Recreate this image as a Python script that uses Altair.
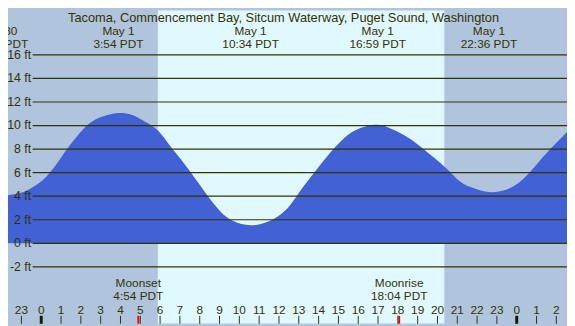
import altair as alt
import pandas as pd

# ---- data ----
# tide height (ft) at times in hours after midnight, May 1 (PDT)
tide_hours = [-2.07, -1.08, -0.43, 0.25, 0.91, 1.24, 1.91, 2.57, 3.23, 3.90,
              4.56, 5.22, 5.89, 6.55, 7.21, 7.88, 8.37, 9.03, 9.70, 10.57,
              11.52, 12.37, 13.01, 14.01, 14.84, 15.67, 16.50, 16.98,
              17.49, 18.49, 19.32, 20.36, 21.14, 21.81, 22.60, 23.46,
              24.29, 25.12, 25.79, 26.53, 26.90]
tide_feet = [3.99, 4.27, 4.77, 5.66, 7.06, 7.85, 9.30, 10.35, 10.83, 11.06,
             10.91, 10.35, 9.57, 8.17, 6.78, 5.24, 4.10, 2.73, 1.89, 1.53,
             1.89, 2.87, 4.30, 6.50, 8.17, 9.43, 9.99, 10.07,
             9.85, 9.01, 7.96, 6.50, 5.24, 4.69, 4.35, 4.55,
             5.39, 6.92, 8.17, 9.43, 9.95]

# daylight bands
band_start = [-4.0, 5.886, 20.36]
band_end = [5.886, 20.36, 30.0]
band_kind = ["night", "day", "night"]

# tide extremes shown along the top
extreme_hours = [-2.083, 3.90, 10.567, 16.983, 22.60]
extreme_dates = ["Apr 30", "May  1", "May  1", "May  1", "May  1"]
extreme_times = ["21:55 PDT", "3:54 PDT", "10:34 PDT", "16:59 PDT", "22:36 PDT"]

# height grid
grid_feet = [-2, 0, 2, 4, 6, 8, 10, 12, 14, 16]
grid_labels = ["-2 ft", "0 ft", "2 ft", "4 ft", "6 ft", "8 ft", "10 ft",
               "12 ft", "14 ft", "16 ft"]

# hour ticks along the bottom
tick_hours = list(range(-2, 27))
tick_labels = ["22", "23", "0", "1", "2", "3", "4", "5", "6", "7", "8", "9",
               "10", "11", "12", "13", "14", "15", "16", "17", "18", "19",
               "20", "21", "22", "23", "0", "1", "2"]
midnight_hours = [0, 24]

# moon events
moon_hours = [4.9, 18.067]
moon_events = ["Moonset", "Moonrise"]
moon_times = ["4:54 PDT", "18:04 PDT"]

title_text = "Tacoma, Commencement Bay, Sitcum Waterway, Puget Sound, Washington"

# ---- styling ----
W, H = 567, 318
NIGHT = "#B0C4DE"
DAY = "#E0F8FF"
WATER = "#4161D5"
INK = "#333300"
FONT = "Liberation Sans"

xs = alt.Scale(domain=[-1.677, 26.538], nice=False, zero=False)
ys = alt.Scale(domain=[-6.83, 19.79], nice=False, zero=False)

tide_df = pd.DataFrame({"h": tide_hours, "ft": tide_feet})
band_df = pd.DataFrame({"h": band_start, "h2": band_end, "kind": band_kind})
ext_df = pd.DataFrame({"h": extreme_hours, "d": extreme_dates, "t": extreme_times})
grid_df = pd.DataFrame({"ft": grid_feet, "lab": grid_labels})
tick_df = pd.DataFrame({"h": tick_hours, "lab": tick_labels})
mid_df = pd.DataFrame({"h": midnight_hours})
moon_df = pd.DataFrame({"h": moon_hours, "ev": moon_events, "t": moon_times})
title_df = pd.DataFrame({"t": [title_text]})

bands = alt.Chart(band_df).mark_rect(clip=True).encode(
    x=alt.X("h:Q", scale=xs, axis=None),
    x2="h2:Q",
    y=alt.value(0),
    y2=alt.value(H),
    color=alt.Color("kind:N", scale=alt.Scale(domain=["night", "day"], range=[NIGHT, DAY]), legend=None),
)

water = alt.Chart(tide_df).mark_area(clip=True, interpolate="natural", color=WATER).encode(
    x=alt.X("h:Q", scale=xs, axis=None),
    y=alt.Y("ft:Q", scale=ys, axis=None),
    y2=alt.value(H),
)

grid = alt.Chart(grid_df).mark_rule(color=INK, strokeWidth=1.2).encode(
    y=alt.Y("ft:Q", scale=ys, axis=None),
    x=alt.value(25),
    x2=alt.value(W),
)

grid_text = alt.Chart(grid_df).mark_text(
    align="right", baseline="middle", font=FONT, fontSize=12.5, color=INK
).encode(
    y=alt.Y("ft:Q", scale=ys, axis=None),
    x=alt.value(23.5),
    text="lab:N",
)

title = alt.Chart(title_df).mark_text(
    align="center", baseline="alphabetic", font=FONT, fontSize=13, color=INK
).encode(x=alt.value(279.5), y=alt.value(11.5), text="t:N")

ext_date = alt.Chart(ext_df).mark_text(
    align="center", baseline="alphabetic", font=FONT, fontSize=12, color=INK
).encode(x=alt.X("h:Q", scale=xs, axis=None), y=alt.value(25), text="d:N")

ext_time = alt.Chart(ext_df).mark_text(
    align="center", baseline="alphabetic", font=FONT, fontSize=12, color=INK
).encode(x=alt.X("h:Q", scale=xs, axis=None), y=alt.value(38.5), text="t:N")

ticks = alt.Chart(tick_df).mark_rule(color=INK, strokeWidth=1).encode(
    x=alt.X("h:Q", scale=xs, axis=None), y=alt.value(310), y2=alt.value(H)
)

tick_text = alt.Chart(tick_df).mark_text(
    align="center", baseline="alphabetic", font=FONT, fontSize=12, color=INK
).encode(x=alt.X("h:Q", scale=xs, axis=None), y=alt.value(307.7), text="lab:N")

mid_ticks = alt.Chart(mid_df).mark_rule(color="#1a1a00", strokeWidth=3).encode(
    x=alt.X("h:Q", scale=xs, axis=None), y=alt.value(310), y2=alt.value(H)
)

moon_ticks = alt.Chart(moon_df).mark_rule(color="#FF0000", strokeWidth=2).encode(
    x=alt.X("h:Q", scale=xs, axis=None), y=alt.value(310), y2=alt.value(H)
)

moon_ev = alt.Chart(moon_df).mark_text(
    align="center", baseline="alphabetic", font=FONT, fontSize=12, color=INK
).encode(x=alt.X("h:Q", scale=xs, axis=None), y=alt.value(280.5), text="ev:N")

moon_t = alt.Chart(moon_df).mark_text(
    align="center", baseline="alphabetic", font=FONT, fontSize=12, color=INK
).encode(x=alt.X("h:Q", scale=xs, axis=None), y=alt.value(294), text="t:N")

chart = alt.layer(
    bands, water, grid, grid_text, title, ext_date, ext_time,
    ticks, mid_ticks, moon_ticks, tick_text, moon_ev, moon_t,
).properties(
    width=W, height=H, padding=0, autosize="none", background=NIGHT
).configure_view(strokeWidth=0)

chart.save("out.html", embed_options={"renderer": "svg", "actions": False})
